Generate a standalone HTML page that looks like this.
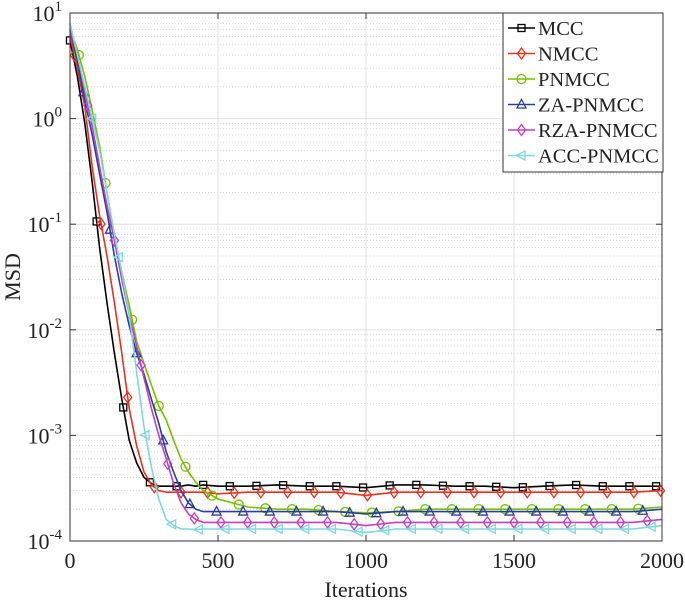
<!DOCTYPE html>
<html><head><meta charset="utf-8"><style>
body{margin:0;background:#fff}
svg text{font-family:"Liberation Serif",serif;fill:#222}
</style></head><body>
<svg id="chart" width="685" height="601" xmlns="http://www.w3.org/2000/svg"></svg>
<script>
const iters=[0,25,50,75,100,125,150,175,200,225,250,275,300,325,350,375,400,425,450,500,600,700,800,900,1000,1100,1200,1300,1400,1500,1600,1700,1800,1900,2000];
const seriesNames=["MCC","NMCC","PNMCC","ZA-PNMCC","RZA-PNMCC","ACC-PNMCC"];
const mcc=[5.5,2.5,0.9,0.25,0.06,0.018,0.006,0.0022,0.0009,0.00055,0.0004,0.00035,0.00033,0.00033,0.00033,0.00033,0.00034,0.00033,0.00034,0.00033,0.00033,0.00034,0.00033,0.00033,0.00032,0.00034,0.00034,0.00033,0.00033,0.00032,0.00033,0.00034,0.00033,0.00033,0.00033];
const nmcc=[6,3,1.3,0.35,0.12,0.05,0.018,0.006,0.0018,0.0008,0.00045,0.00034,0.0003,0.00029,0.00029,0.00029,0.00029,0.00029,0.00029,0.00028,0.00029,0.00029,0.00029,0.00029,0.00027,0.00029,0.00029,0.00029,0.00029,0.00029,0.00029,0.00029,0.00029,0.00029,0.0003];
const pnmcc=[7,4.5,2.5,1.2,0.55,0.2,0.075,0.035,0.017,0.0078,0.0048,0.003,0.0019,0.0014,0.0009,0.0006,0.00045,0.00036,0.0003,0.00025,0.00021,0.0002,0.0002,0.00019,0.000185,0.00019,0.0002,0.0002,0.0002,0.0002,0.0002,0.0002,0.0002,0.0002,0.00021];
const zapnmcc=[7,3.5,1.5,0.7,0.3,0.13,0.05,0.022,0.011,0.006,0.0038,0.0022,0.0013,0.0007,0.00045,0.0003,0.00023,0.0002,0.00019,0.00019,0.00019,0.00019,0.00019,0.00019,0.00018,0.00019,0.00019,0.00019,0.00019,0.00019,0.00019,0.00019,0.00019,0.00019,0.0002];
const rzapnmcc=[7,4,1.8,0.85,0.35,0.15,0.07,0.03,0.014,0.007,0.0035,0.0018,0.001,0.0006,0.00035,0.00023,0.00018,0.00016,0.00015,0.00015,0.00015,0.00015,0.00015,0.00015,0.00014,0.00015,0.00015,0.00015,0.00015,0.00015,0.00015,0.00015,0.00015,0.00015,0.00016];
const accpnmcc=[8,4,2,1,0.5,0.2,0.08,0.035,0.014,0.004,0.0012,0.0005,0.00025,0.00016,0.00014,0.00013,0.00013,0.000128,0.00013,0.00013,0.00013,0.00013,0.00013,0.00013,0.00012,0.00013,0.00013,0.00013,0.00013,0.00013,0.00013,0.00013,0.00013,0.00013,0.00014];
const xTicks=[0,500,1000,1500,2000];
const yExps=[1,0,-1,-2,-3,-4];

const L=70,R=662,T=13,B=541;
const X=v=>L+(v/2000)*(R-L);
const Y=v=>T+(1-Math.log10(v))/5*(B-T);
const NS="http://www.w3.org/2000/svg";
const svg=document.getElementById('chart');
function mk(tag,attrs,parent){const e=document.createElementNS(NS,tag);for(const k in attrs)e.setAttribute(k,attrs[k]);(parent||svg).appendChild(e);return e;}

const grid=mk('g',{});


for(let e=-4;e<1;e++){for(let m=2;m<10;m++){const y=Y(m*Math.pow(10,e));mk('line',{x1:L,x2:R,y1:y,y2:y,stroke:'#ccc','stroke-width':0.8,'stroke-dasharray':'1,2'},grid);}}
yExps.forEach(e=>{const y=Y(Math.pow(10,e));mk('line',{x1:L,x2:R,y1:y,y2:y,stroke:'#e2e2e2','stroke-width':1},grid);});
xTicks.forEach(t=>{mk('line',{x1:X(t),x2:X(t),y1:T,y2:B,stroke:'#e2e2e2','stroke-width':1},grid);});

const colors=["#000000","#e8321e","#77c000","#2a3d9e","#bf40c0","#7fd8e0"];
const data=[mcc,nmcc,pnmcc,zapnmcc,rzapnmcc,accpnmcc];
const shapes=["square","diamond","circle","tri","diamond","tril"];
function marker(shape,x,y,c,g){
  const a={fill:'none',stroke:c,'stroke-width':1.3};
  let e;
  if(shape==='square')e=mk('rect',Object.assign({x:x-3.5,y:y-3.5,width:7,height:7},a),g);
  else if(shape==='circle')e=mk('circle',Object.assign({cx:x,cy:y,r:4.5},a),g);
  else if(shape==='diamond')e=mk('polygon',Object.assign({points:`${x},${y-5.5} ${x+4},${y} ${x},${y+5.5} ${x-4},${y}`},a),g);
  else if(shape==='tri')e=mk('polygon',Object.assign({points:`${x},${y-5} ${x+4.5},${y+3.5} ${x-4.5},${y+3.5}`},a),g);
  else e=mk('polygon',Object.assign({points:`${x-5},${y} ${x+3.5},${y-4.5} ${x+3.5},${y+4.5}`},a),g);
  return e;
}
function interp(arr,t){for(let i=0;i<iters.length-1;i++){if(t>=iters[i]&&t<=iters[i+1]){const f=(t-iters[i])/(iters[i+1]-iters[i]);return Math.pow(10,Math.log10(arr[i])*(1-f)+Math.log10(arr[i+1])*f);}}return arr[arr.length-1];}
data.forEach((arr,s)=>{
  const g=mk('g',{});
  
  
  const pts=iters.map((t,i)=>X(t).toFixed(1)+','+Y(arr[i]).toFixed(1)).join(' ');
  mk('polyline',{points:pts,fill:'none',stroke:colors[s],'stroke-width':1.6},g);
  for(let t=s*15;t<=2000;t+=90){marker(shapes[s],X(t),Y(interp(arr,t)),colors[s],g);}
});

const ax=mk('g',{});


mk('rect',{x:L,y:T,width:R-L,height:B-T,fill:'none',stroke:'#333','stroke-width':1},ax);
xTicks.forEach(t=>{
  mk('line',{x1:X(t),x2:X(t),y1:B,y2:B-6,stroke:'#333'},ax);
  mk('line',{x1:X(t),x2:X(t),y1:T,y2:T+6,stroke:'#333'},ax);
  const tx=mk('text',{x:X(t),y:B+27,'text-anchor':'middle','font-size':22},ax);tx.textContent=t;
  
});
yExps.forEach(e=>{
  const y=Y(Math.pow(10,e));
  mk('line',{x1:L,x2:L+6,y1:y,y2:y,stroke:'#333'},ax);
  mk('line',{x1:R,x2:R-6,y1:y,y2:y,stroke:'#333'},ax);
  const tx=mk('text',{x:L-8,y:y+8,'text-anchor':'end','font-size':22},ax);
  
  tx.innerHTML='10<tspan dy="-10" font-size="15">'+e+'</tspan>';
});
const xt=mk('text',{x:(L+R)/2,y:B+56,'text-anchor':'middle','font-size':22},ax);xt.textContent='Iterations';

const yt=mk('text',{x:0,y:0,'text-anchor':'middle','font-size':22,transform:`translate(20,${(T+B)/2}) rotate(-90)`},ax);yt.textContent='MSD';


const lg=mk('g',{});


mk('rect',{x:503,y:13,width:160,height:159,fill:'#fff',stroke:'#333','stroke-width':1},lg);
seriesNames.forEach((n,s)=>{
  const y=28+s*25.5;
  const e=mk('g',{},lg);
  
  
  mk('line',{x1:508,x2:535,y1:y,y2:y,stroke:colors[s],'stroke-width':1.6},e);
  marker(shapes[s],521.5,y,colors[s],e);
  const t=mk('text',{x:538,y:y+7,'font-size':20.5},e);t.textContent=n;
});
</script>
</body></html>
